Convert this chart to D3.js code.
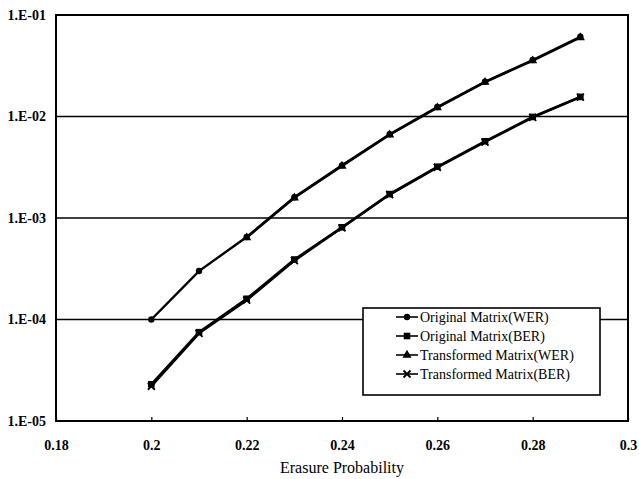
<!DOCTYPE html>
<html>
<head>
<meta charset="utf-8">
<script src="https://cdn.jsdelivr.net/npm/d3@7"></script>
<style>
  html, body { margin: 0; padding: 0; background: #fff; }
  svg { display: block; }
  text { font-family: "Times New Roman", "Liberation Serif", serif; fill: #000; }
</style>
</head>
<body>
<svg id="chart" width="639" height="479"></svg>
<script>
// Erasure probability on the x axis
const erasureProb = [0.2, 0.21, 0.22, 0.23, 0.24, 0.25, 0.26, 0.27, 0.28, 0.29];

// Error rates per series (null = no point)
const originalWER    = [1.0e-4, 3.0e-4, 6.5e-4, 1.6e-3, 3.3e-3, 6.7e-3, 1.24e-2, 2.2e-2, 3.6e-2, 6.1e-2];
const originalBER    = [2.3e-5, 7.5e-5, 1.6e-4, 3.9e-4, 8.1e-4, 1.72e-3, 3.2e-3, 5.7e-3, 9.9e-3, 1.56e-2];
const transformedWER = [null, null, 6.4e-4, 1.58e-3, 3.25e-3, 6.6e-3, 1.22e-2, 2.18e-2, 3.55e-2, 6.0e-2];
const transformedBER = [2.2e-5, 7.3e-5, 1.55e-4, 3.8e-4, 8.0e-4, 1.7e-3, 3.15e-3, 5.6e-3, 9.8e-3, 1.55e-2];

const seriesNames = ["Original Matrix(WER)", "Original Matrix(BER)", "Transformed Matrix(WER)", "Transformed Matrix(BER)"];
const seriesMarkers = ["circle", "square", "triangle", "cross"];

const xTicks = [0.18, 0.2, 0.22, 0.24, 0.26, 0.28, 0.3];
const xTickLabels = ["0.18", "0.2", "0.22", "0.24", "0.26", "0.28", "0.3"];
const yTicks = [1e-5, 1e-4, 1e-3, 1e-2, 1e-1];
const yTickLabels = ["1.E-05", "1.E-04", "1.E-03", "1.E-02", "1.E-01"];
const xTitle = "Erasure Probability";

const svg = d3.select("#chart");
const plot = { left: 56, right: 628, top: 15, bottom: 421 };

const x = d3.scaleLinear().domain([0.18, 0.3]).range([plot.left, plot.right]);
const y = d3.scaleLog().domain([1e-5, 1e-1]).range([plot.bottom, plot.top]);

// Horizontal grid lines at each decade
svg.append("g")
  .selectAll("line")
  .data(yTicks.slice(1, -1))
  .join("line")
  .attr("x1", plot.left).attr("x2", plot.right)
  .attr("y1", d => y(d)).attr("y2", d => y(d))
  .attr("stroke", "#000").attr("stroke-width", 1.6);

// Bottom axis: inward ticks, labels below
const xAxis = d3.axisBottom(x)
  .tickValues(xTicks)
  .tickSizeInner(-4).tickSizeOuter(0)
  .tickPadding(19)
  .tickFormat((d, i) => xTickLabels[i]);
const gx = svg.append("g")
  .attr("transform", `translate(0,${plot.bottom})`)
  .call(xAxis);
gx.select(".domain").remove();
gx.selectAll(".tick line").attr("stroke", "#000").attr("stroke-width", 1.2);
gx.selectAll(".tick text")
  .attr("font-size", 14).attr("font-weight", "bold");

// Left axis: labels only
const yAxis = d3.axisLeft(y)
  .tickValues(yTicks)
  .tickSize(0)
  .tickPadding(10)
  .tickFormat((d, i) => yTickLabels[i]);
const gy = svg.append("g")
  .attr("transform", `translate(${plot.left},0)`)
  .call(yAxis);
gy.select(".domain").remove();
gy.selectAll(".tick text")
  .attr("font-size", 14).attr("font-weight", "bold");

// Plot frame
svg.append("rect")
  .attr("x", plot.left).attr("y", plot.top)
  .attr("width", plot.right - plot.left).attr("height", plot.bottom - plot.top)
  .attr("fill", "none").attr("stroke", "#000").attr("stroke-width", 2);

// Axis title
svg.append("text")
  .attr("x", (plot.left + plot.right) / 2).attr("y", 473)
  .attr("text-anchor", "middle")
  .attr("font-size", 16)
  .text(xTitle);

// Marker drawing
function drawMarker(g, type, cx, cy) {
  if (type === "circle") {
    g.append("circle").attr("cx", cx).attr("cy", cy).attr("r", 3.2).attr("fill", "#000");
  } else if (type === "square") {
    g.append("rect").attr("x", cx - 3.3).attr("y", cy - 3.3).attr("width", 6.6).attr("height", 6.6).attr("fill", "#000");
  } else if (type === "triangle") {
    g.append("path").attr("d", d3.symbol(d3.symbolTriangle, 36)()).attr("transform", `translate(${cx},${cy})`).attr("fill", "#000");
  } else {
    g.append("path")
      .attr("d", `M${cx - 3.5},${cy - 3.5}L${cx + 3.5},${cy + 3.5}M${cx - 3.5},${cy + 3.5}L${cx + 3.5},${cy - 3.5}`)
      .attr("stroke", "#000").attr("stroke-width", 1.8).attr("fill", "none");
  }
}

const allSeries = [originalWER, originalBER, transformedWER, transformedBER];
const line = d3.line()
  .defined(d => d.v != null)
  .x(d => x(d.p))
  .y(d => y(d.v));

allSeries.forEach((vals, si) => {
  const pts = erasureProb.map((p, i) => ({ p, v: vals[i] }));
  const g = svg.append("g");
  g.append("path")
    .datum(pts)
    .attr("d", line)
    .attr("fill", "none")
    .attr("stroke", "#000")
    .attr("stroke-width", 2.4);
  pts.filter(d => d.v != null).forEach(d => drawMarker(g, seriesMarkers[si], x(d.p), y(d.v)));
});

// Legend
const legend = { x: 363, y: 308, w: 237, h: 87, rowStart: 317, rowGap: 19 };
const lg = svg.append("g");
lg.append("rect")
  .attr("x", legend.x).attr("y", legend.y)
  .attr("width", legend.w).attr("height", legend.h)
  .attr("fill", "#fff").attr("stroke", "#000").attr("stroke-width", 1.6);
seriesNames.forEach((name, i) => {
  const ry = legend.rowStart + i * legend.rowGap;
  lg.append("line")
    .attr("x1", 396).attr("x2", 418).attr("y1", ry).attr("y2", ry)
    .attr("stroke", "#000").attr("stroke-width", 1.6);
  drawMarker(lg, seriesMarkers[i], 407, ry);
  lg.append("text")
    .attr("x", 420).attr("y", ry)
    .attr("dy", "0.35em")
    .attr("font-size", 14)
    .text(name);
});
</script>
</body>
</html>
